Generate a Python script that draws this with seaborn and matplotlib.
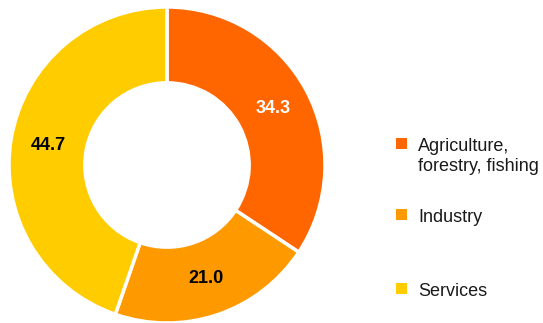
import matplotlib
matplotlib.use("Agg")
import matplotlib.pyplot as plt
import matplotlib.patches as mpatches
import seaborn as sns

sectors = ["Agriculture,\nforestry, fishing", "Industry", "Services"]
shares = [34.3, 21.0, 44.7]
colors = ["#FF6600", "#FF9900", "#FFCC00"]
label_colors = ["white", "black", "black"]

sns.set_theme(style="white")
plt.rcParams["font.family"] = ["Liberation Sans", "DejaVu Sans"]

fig = plt.figure(figsize=(5.43, 3.23), dpi=100)
ax = fig.add_axes([9 / 543, 0 / 323, 316 / 543, 316 / 323])

wedges, texts = ax.pie(
    shares, colors=colors, startangle=90, counterclock=False,
    labels=[f"{v:.1f}" for v in shares], labeldistance=0.76,
    wedgeprops=dict(width=0.48, edgecolor="white", linewidth=2.5),
    textprops=dict(fontsize=13, fontweight="bold", ha="center", va="center"),
)
for t, c in zip(texts, label_colors):
    t.set_color(c)
ax.set_xlim(-1.0, 1.0)
ax.set_ylim(-1.0, 1.0)
ax.set_aspect("equal")
ax.axis("off")

# legend drawn by hand to match the uneven spacing
W, H = 543, 323
baselines = [151, 222, 296]
for name, col, yb in zip(sectors, colors, baselines):
    sq_top = yb - 13
    fig.patches.append(mpatches.Rectangle(
        (396 / W, 1 - (sq_top + 11) / H), 11 / W, 11 / H,
        transform=fig.transFigure, facecolor=col, edgecolor="none"))
    first, *rest = name.split("\n")
    fig.text(418 / W, 1 - yb / H, first, fontsize=13, color="#1a1a1a", va="baseline")
    for k, line in enumerate(rest):
        fig.text(418 / W, 1 - (yb + 20 * (k + 1)) / H, line, fontsize=13,
                 color="#1a1a1a", va="baseline")

fig.savefig("out.png", dpi=100)
